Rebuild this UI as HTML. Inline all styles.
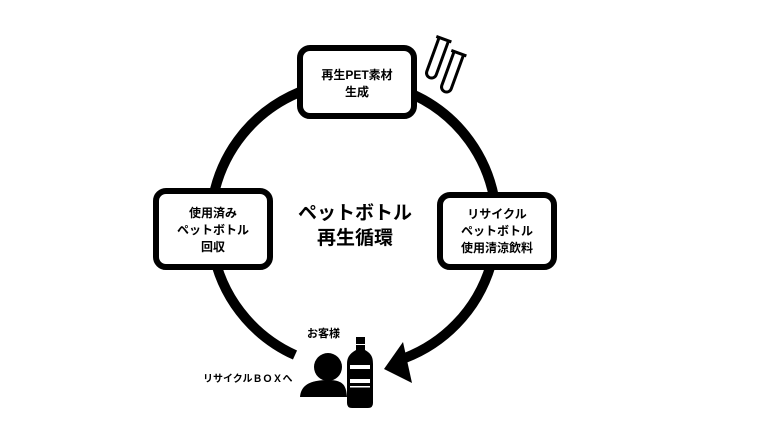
<!DOCTYPE html>
<html><head><meta charset="utf-8"><style>
body{margin:0;background:#fff;}
svg{display:block}
text{font-family:"Liberation Sans","Noto Sans CJK JP",sans-serif;font-weight:bold;fill:#000}
</style></head><body>
<svg width="768" height="432" viewBox="0 0 768 432">
<rect width="768" height="432" fill="#fff"/>
<path d="M295 355 A143 143 0 1 1 405 358" fill="none" stroke="#000" stroke-width="10"/>
<polygon points="384,369 403,342 412,383" fill="#000"/>
<!-- boxes -->
<rect x="300" y="48" width="114" height="68" rx="10" fill="#fff" stroke="#000" stroke-width="6"/>
<text x="357" y="79" font-size="12" text-anchor="middle">再生PET素材</text>
<text x="357" y="96" font-size="12" text-anchor="middle">生成</text>
<rect x="156" y="191" width="114" height="76" rx="10" fill="#fff" stroke="#000" stroke-width="6"/>
<text x="213" y="217" font-size="12" text-anchor="middle">使用済み</text>
<text x="213" y="234" font-size="12" text-anchor="middle">ペットボトル</text>
<text x="213" y="251" font-size="12" text-anchor="middle">回収</text>
<rect x="440" y="195" width="114" height="72" rx="10" fill="#fff" stroke="#000" stroke-width="6"/>
<text x="497" y="218" font-size="12" text-anchor="middle">リサイクル</text>
<text x="497" y="235" font-size="12" text-anchor="middle">ペットボトル</text>
<text x="497" y="252" font-size="12" text-anchor="middle">使用清涼飲料</text>
<!-- center -->
<text x="355" y="219" font-size="19" text-anchor="middle">ペットボトル</text>
<text x="355" y="244" font-size="19" text-anchor="middle">再生循環</text>
<!-- tubes -->
<g transform="translate(437,58) rotate(20)" fill="none" stroke="#000" stroke-width="3">
<path d="M-5 -20 V16 A5 5 0 0 0 5 16 V-20"/><line x1="-8" y1="-20" x2="8" y2="-20"/>
</g>
<g transform="translate(452,72) rotate(20)" fill="none" stroke="#000" stroke-width="3">
<path d="M-5 -20 V16 A5 5 0 0 0 5 16 V-20"/><line x1="-8" y1="-20" x2="8" y2="-20"/>
</g>
<!-- customer -->
<text x="307" y="337" font-size="11">お客様</text>
<text x="203" y="382" font-size="10">リサイクルＢＯＸへ</text>
<circle cx="328" cy="367" r="14" fill="#000"/>
<path d="M300 397 C301 384 312 380 328 380 C344 380 346 386 347 397 Z" fill="#000"/>
<!-- bottle -->
<rect x="356" y="337" width="9" height="7" fill="#000"/>
<path d="M356 345 H365 V350 C372 354 373 358 373 364 V403 Q373 408 368 408 H352 Q347 408 347 403 V364 C347 358 349 354 356 350 Z" fill="#000"/>
<rect x="350" y="365" width="20" height="18" fill="#fff"/>
<rect x="350" y="369" width="20" height="10" fill="#000"/>
<rect x="350" y="386" width="20" height="1.5" fill="#fff"/>
</svg>
</body></html>
